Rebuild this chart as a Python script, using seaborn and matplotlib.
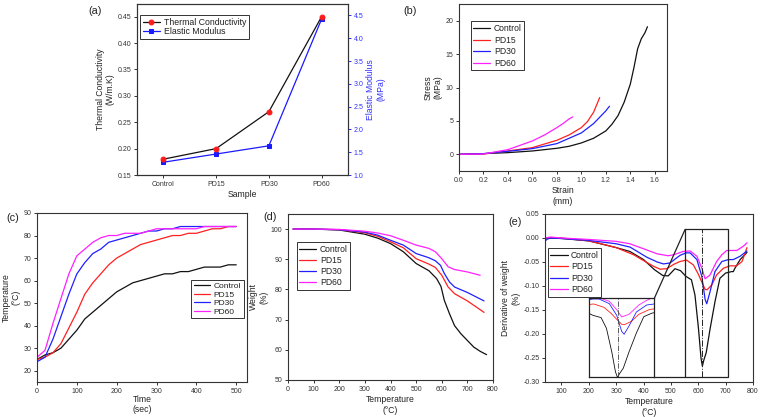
import numpy as np
import pandas as pd
import matplotlib
matplotlib.use("Agg")
import matplotlib.pyplot as plt
import seaborn as sns

# (a) thermal conductivity / elastic modulus
samples = ["Control", "PD15", "PD30", "PD60"]
thermal_cond = [0.18, 0.20, 0.27, 0.45]
elastic_mod = [1.28, 1.46, 1.64, 4.42]

# (b) stress-strain
strain_ctrl = [0.0, 0.2, 0.4, 0.6, 0.8, 0.9, 1.0, 1.1, 1.2, 1.25, 1.3, 1.35, 1.4, 1.43, 1.46, 1.49, 1.52, 1.54]
stress_ctrl = [0.0, 0.1, 0.25, 0.5, 0.9, 1.2, 1.7, 2.4, 3.5, 4.5, 5.8, 7.8, 10.5, 13.0, 15.8, 17.3, 18.2, 19.1]
strain_pd15 = [0.0, 0.2, 0.4, 0.6, 0.8, 0.9, 1.0, 1.05, 1.1, 1.15]
stress_pd15 = [0.0, 0.05, 0.5, 1.0, 2.1, 2.9, 4.0, 4.9, 6.3, 8.5]
strain_pd30 = [0.0, 0.2, 0.4, 0.6, 0.8, 1.0, 1.1, 1.2, 1.23]
stress_pd30 = [0.0, 0.1, 0.45, 0.85, 1.6, 3.2, 4.6, 6.5, 7.2]
strain_pd60 = [0.0, 0.2, 0.4, 0.6, 0.7, 0.8, 0.85, 0.9, 0.93]
stress_pd60 = [0.0, 0.05, 0.7, 2.0, 2.9, 4.0, 4.6, 5.3, 5.6]

# (c) temperature vs time
time_s = [0, 20, 40, 60, 80, 100, 120, 140, 160, 180, 200, 220, 240, 260, 280, 300,
          320, 340, 360, 380, 400, 420, 440, 460, 480, 500]
temp_ctrl = [25, 27, 28, 30, 34, 38, 43, 46, 49, 52, 55, 57, 59, 60, 61, 62,
             63, 63, 64, 64, 65, 66, 66, 66, 67, 67]
temp_pd15 = [25, 26, 28, 32, 39, 46, 54, 59, 63, 67, 70, 72, 74, 76, 77, 78,
             79, 80, 80, 81, 81, 82, 83, 83, 84, 84]
temp_pd30 = [24, 26, 34, 44, 54, 63, 68, 72, 74, 77, 78, 79, 80, 81, 82, 82,
             83, 83, 84, 84, 84, 84, 84, 84, 84, 84]
temp_pd60 = [26, 29, 41, 52, 63, 71, 74, 77, 79, 80, 80, 81, 81, 81, 82, 83,
             83, 83, 83, 83, 83, 84, 84, 84, 84, 84]

# (d) TGA
tga_x_ctrl = [20, 100, 200, 300, 350, 400, 450, 500, 550, 580, 597, 610, 630, 650, 675, 700, 725, 750, 775]
tga_ctrl = [100, 100, 99.7, 98.3, 97.0, 95.2, 92.5, 88.6, 86.2, 83.6, 81.0, 76.4, 72.0, 68.0, 65.3, 63.1, 60.9, 59.5, 58.4]
tga_x_pd15 = [20, 100, 200, 300, 350, 400, 450, 500, 550, 575, 600, 625, 650, 700, 750, 765]
tga_pd15 = [100, 100, 99.8, 98.8, 97.6, 95.8, 93.8, 90.2, 88.4, 87.3, 84.7, 80.8, 78.6, 76.2, 73.3, 72.4]
tga_x_pd30 = [20, 100, 200, 300, 350, 400, 450, 500, 550, 575, 595, 610, 630, 650, 700, 765]
tga_pd30 = [100, 100, 99.8, 99.0, 98.0, 96.3, 94.7, 91.9, 90.5, 89.5, 88.0, 85.3, 82.5, 80.8, 79.0, 76.2]
tga_x_pd60 = [20, 100, 200, 300, 350, 400, 450, 500, 550, 575, 600, 625, 650, 700, 750]
tga_pd60 = [100, 100, 99.9, 99.3, 98.7, 97.8, 96.3, 94.7, 93.6, 92.5, 90.2, 87.5, 86.6, 85.8, 84.7]

# (e) DTG
dtg_x_ctrl = [40, 100, 200, 300, 350, 400, 440, 470, 490, 515, 535, 555, 575, 588, 601, 610, 615,
              620, 629, 643, 661, 679, 700, 722, 728, 734, 753, 778]
dtg_ctrl = [0.0, -0.001, -0.006, -0.02, -0.028, -0.045, -0.066, -0.078, -0.079, -0.064, -0.068, -0.08,
            -0.087, -0.119, -0.19, -0.25, -0.267, -0.255, -0.239, -0.19, -0.133, -0.084, -0.073, -0.07,
            -0.07, -0.063, -0.045, -0.03]
dtg_x_pd15 = [40, 100, 200, 245, 300, 364, 400, 437, 461, 485, 510, 533, 557, 582, 600, 613, 625,
              632, 649, 667, 692, 716, 740, 760, 778]
dtg_pd15 = [0.001, 0.0, -0.006, -0.012, -0.02, -0.035, -0.047, -0.059, -0.065, -0.064, -0.055, -0.049,
            -0.046, -0.056, -0.075, -0.092, -0.107, -0.108, -0.098, -0.077, -0.063, -0.058, -0.058,
            -0.049, -0.02]
dtg_x_pd30 = [40, 50, 60, 100, 200, 300, 351, 412, 450, 473, 497, 515, 534, 555, 570, 595, 613, 625,
              631, 643, 661, 686, 710, 728, 753, 778]
dtg_pd30 = [-0.006, -0.002, 0.0, -0.001, -0.005, -0.012, -0.019, -0.04, -0.05, -0.054, -0.052, -0.044,
            -0.036, -0.031, -0.031, -0.045, -0.08, -0.128, -0.137, -0.112, -0.07, -0.049, -0.045,
            -0.045, -0.038, -0.027]
dtg_x_pd60 = [40, 60, 100, 200, 300, 350, 412, 450, 490, 510, 545, 570, 595, 613, 625, 643, 667, 686,
              704, 741, 765, 778]
dtg_pd60 = [0.0, 0.002, 0.0, -0.003, -0.007, -0.012, -0.025, -0.033, -0.037, -0.035, -0.028, -0.027,
            -0.038, -0.063, -0.085, -0.077, -0.049, -0.035, -0.026, -0.026, -0.017, -0.01]

names = ["Control", "PD15", "PD30", "PD60"]
colors = ["#111111", "#ff2020", "#2020ff", "#ff20ff"]

sns.set_theme(style="ticks")
plt.rcParams["font.family"] = ["Liberation Sans", "DejaVu Sans"]
plt.rcParams.update({
    "axes.linewidth": 0.8,
    "axes.edgecolor": "#333333",
    "xtick.major.size": 2.5, "ytick.major.size": 2.5,
    "xtick.major.width": 0.7, "ytick.major.width": 0.7,
    "xtick.major.pad": 1.5, "ytick.major.pad": 1.5,
    "xtick.labelsize": 5, "ytick.labelsize": 5,
    "axes.labelsize": 6.2, "axes.labelpad": 2,
    "text.color": "#222222", "axes.labelcolor": "#222222",
    "xtick.color": "#333333", "ytick.color": "#333333",
})

fig = plt.figure(figsize=(7.6, 4.17), dpi=100)
W, H = 760, 417


def add_ax(l, t, r, b):
    return fig.add_axes([l / W, 1 - b / H, (r - l) / W, (b - t) / H])


def legend(ax, x, y, fs=6.2, spacing=0.25, handles=None, labels=None):
    if handles is None:
        handles, labels = ax.get_legend_handles_labels()
    lg = ax.legend(handles, labels, loc="upper left", bbox_to_anchor=(x, y), fontsize=fs,
                   frameon=True, fancybox=False, framealpha=1, edgecolor="#333333",
                   handlelength=2.0, handletextpad=0.4, borderpad=0.3, labelspacing=spacing,
                   borderaxespad=0)
    lg.get_frame().set_linewidth(0.7)
    return lg


def panel_label(x, y, s):
    fig.text(x / W, 1 - y / H, s, fontsize=7.8, ha="center", va="center")


# ---- (a)
axa = add_ax(137, 4, 348, 175)
xs = np.arange(len(samples))
sns.lineplot(x=xs, y=thermal_cond, ax=axa, color="#111111", lw=0.9, marker="o", markersize=3.5,
             markerfacecolor="#ff1a1a", markeredgecolor="#ff1a1a", label="Thermal Conductivity")
axa2 = axa.twinx()
sns.lineplot(x=xs, y=elastic_mod, ax=axa2, color="#1a1aff", lw=0.9, marker="s", markersize=3.2,
             markerfacecolor="#1a1aff", markeredgecolor="#1a1aff", label="Elastic Modulus")
axa.set_xlim(-0.5, 3.5)
axa.set_ylim(0.15, 0.474)
axa.set_yticks([0.15, 0.20, 0.25, 0.30, 0.35, 0.40, 0.45])
axa.set_yticklabels([f"{v:.2f}" for v in [0.15, 0.20, 0.25, 0.30, 0.35, 0.40, 0.45]])
axa.set_xticks(xs)
axa.set_xticklabels(samples)
axa2.set_ylim(1.0, 4.75)
axa2.set_yticks([1.0, 1.5, 2.0, 2.5, 3.0, 3.5, 4.0, 4.5])
axa2.set_yticklabels([f"{v:.1f}" for v in [1.0, 1.5, 2.0, 2.5, 3.0, 3.5, 4.0, 4.5]])
axa2.spines["right"].set_color("#3030ff")
axa2.tick_params(axis="y", colors="#3030ff", labelcolor="#3030ff")
axa2.set_ylabel("Elastic Modulus\n(MPa)", color="#3030ff")
axa.set_xlabel("Sample")
axa.set_ylabel("Thermal Conductivity\n(W/m.K)")
if axa2.get_legend():
    axa2.get_legend().remove()
h1, l1 = axa.get_legend_handles_labels()
h2, l2 = axa2.get_legend_handles_labels()
lg = legend(axa, 0.014, 0.936, fs=6.3, spacing=0.1, handles=h1 + h2, labels=l1 + l2)
axa.set_zorder(axa2.get_zorder() + 1)
axa.patch.set_visible(False)
panel_label(95, 11, "(a)")

# ---- (b)
axb = add_ax(459, 4, 667, 171)
for sx, sy, n, c in zip([strain_ctrl, strain_pd15, strain_pd30, strain_pd60],
                        [stress_ctrl, stress_pd15, stress_pd30, stress_pd60], names, colors):
    sns.lineplot(x=sx, y=sy, ax=axb, color=c, lw=0.9, label=n, sort=False)
axb.set_xlim(0, 1.7)
axb.set_ylim(-2.5, 22.5)
axb.set_xticks([0.0, 0.2, 0.4, 0.6, 0.8, 1.0, 1.2, 1.4, 1.6])
axb.set_xticklabels([f"{v:.1f}" for v in [0.0, 0.2, 0.4, 0.6, 0.8, 1.0, 1.2, 1.4, 1.6]])
axb.set_yticks([0, 5, 10, 15, 20])
axb.set_xlabel("Strain\n(mm)")
axb.set_ylabel("Stress\n(MPa)")
legend(axb, 0.056, 0.896, spacing=0.3)
panel_label(410, 11, "(b)")

# ---- (c)
axc = add_ax(37, 213, 247, 382)
for ty, n, c in zip([temp_ctrl, temp_pd15, temp_pd30, temp_pd60], names, colors):
    sns.lineplot(x=time_s, y=ty, ax=axc, color=c, lw=0.9, label=n)
axc.set_xlim(0, 527)
axc.set_ylim(15, 90)
axc.set_xticks([0, 100, 200, 300, 400, 500])
axc.set_yticks([20, 30, 40, 50, 60, 70, 80, 90])
axc.set_xlabel("Time\n(sec)", labelpad=0)
axc.set_ylabel("Temperature\n(°C)")
legend(axc, 0.734, 0.604, fs=6.0, spacing=0.08)
panel_label(13, 218, "(c)")

# ---- (d)
axd = add_ax(288, 214, 493, 380)
for tx, ty, n, c in zip([tga_x_ctrl, tga_x_pd15, tga_x_pd30, tga_x_pd60],
                        [tga_ctrl, tga_pd15, tga_pd30, tga_pd60], names, colors):
    sns.lineplot(x=tx, y=ty, ax=axd, color=c, lw=0.9, label=n)
axd.set_xlim(0, 800)
axd.set_ylim(50, 105)
axd.set_xticks(range(0, 801, 100))
axd.set_yticks(range(50, 101, 10))
axd.set_xlabel("Temperature\n(°C)")
axd.set_ylabel("Weight\n(%)")
legend(axd, 0.042, 0.831, spacing=0.25)
panel_label(270, 217, "(d)")

# ---- (e)
axe = add_ax(545, 214, 753, 382)
dtg_xs = [dtg_x_ctrl, dtg_x_pd15, dtg_x_pd30, dtg_x_pd60]
dtg_ys = [dtg_ctrl, dtg_pd15, dtg_pd30, dtg_pd60]
for tx, ty, n, c in zip(dtg_xs, dtg_ys, names, colors):
    sns.lineplot(x=tx, y=ty, ax=axe, color=c, lw=0.9, label=n)
axe.set_xlim(40, 800)
axe.set_ylim(-0.30, 0.05)
axe.set_xticks(range(100, 801, 100))
axe.set_yticks([0.05, 0.0, -0.05, -0.10, -0.15, -0.20, -0.25, -0.30])
axe.set_yticklabels([f"{v:.2f}" for v in [0.05, 0.0, -0.05, -0.10, -0.15, -0.20, -0.25, -0.30]])
axe.set_xlabel("Temperature\n(°C)")
axe.set_ylabel("Derivative of weight\n(%)")
legend(axe, 0.013, 0.798, spacing=0.3)
panel_label(515, 222, "(e)")

# zoom box, connectors and inset
box_x0, box_x1, box_y0, box_y1 = 552, 710, -0.290, 0.018
ins_x0, ins_x1, ins_y0, ins_y1 = 200, 440, -0.290, -0.125
peak_t = 615
axe.add_patch(plt.Rectangle((box_x0, box_y0), box_x1 - box_x0, box_y1 - box_y0,
                            fill=False, ec="#222222", lw=0.9, zorder=4))
axe.plot([ins_x1, box_x0], [ins_y1, box_y1], color="#222222", lw=0.9, zorder=4)
axe.plot([ins_x1, box_x0], [ins_y0, box_y0], color="#222222", lw=0.9, zorder=4)
axe.plot([peak_t, peak_t], [box_y0, box_y1], color="#222222", lw=0.7, ls="-.", zorder=4)

axi = axe.inset_axes([ins_x0, ins_y0, ins_x1 - ins_x0, ins_y1 - ins_y0], transform=axe.transData)
for tx, ty, c in zip(dtg_xs, dtg_ys, colors):
    sns.lineplot(x=tx, y=ty, ax=axi, color=c, lw=0.6)
axi.axvline(peak_t, color="#444444", lw=0.6, ls="-.")
axi.set_xlim(545, 705)
axi.set_ylim(-0.266, -0.028)
axi.set_xticks([])
axi.set_yticks([])
axi.set_xlabel("")
axi.set_ylabel("")
for s in axi.spines.values():
    s.set_linewidth(0.9)
    s.set_color("#222222")

fig.savefig("out.png", dpi=100)
